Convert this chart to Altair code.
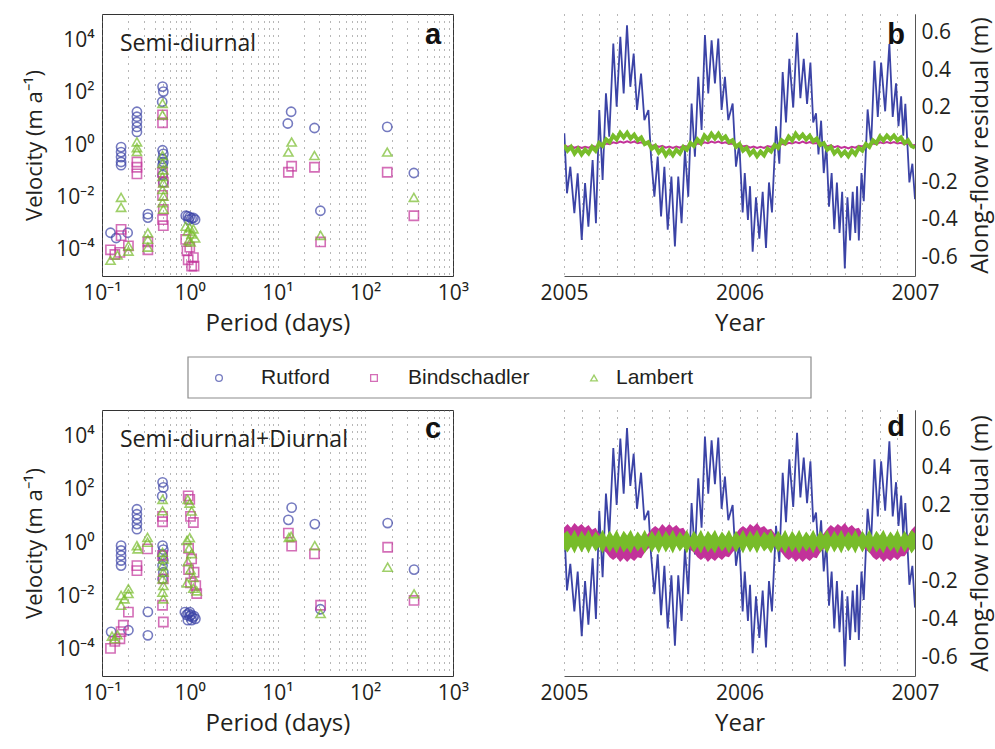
import altair as alt
import pandas as pd

SERIES = ["Rutford", "Bindschadler", "Lambert"]
COLORS = ["#3B43A6", "#C2329A", "#77BC2A"]
SHAPES = ["circle", "square", "triangle-up"]
TXT = "#231F20"
FONT = "Open Sans"

# ---------------- Panel a (Semi-diurnal): period (days), log10 velocity (m/a)
a_rut_period = [0.125, 0.145, 0.165, 0.165, 0.165, 0.165, 0.165, 0.196, 0.25, 0.25, 0.25, 0.25, 0.25,
                0.333, 0.333, 0.49, 0.50, 0.485, 0.49, 0.50, 0.49, 0.50, 0.49, 0.49, 0.50,
                0.90, 0.95, 1.0, 1.05, 1.1, 1.15, 0.97, 13.1, 14.3, 26.4, 30.8, 178, 358]
a_rut_logv = [-3.35, -3.55, -0.08, -0.27, -0.46, -0.65, -0.77, -3.35, 1.27, 1.08, 0.88, 0.69, 0.50,
              -2.64, -2.77, 2.23, 2.04, 1.65, -0.2, -0.34, -0.53, -0.65, -0.77, -1.15, -1.42,
              -2.7, -2.72, -2.75, -2.8, -2.78, -2.85, -2.85, 0.82, 1.27, 0.65, -2.51, 0.69, -1.07]
a_bin_period = [0.125, 0.14, 0.165, 0.165, 0.16, 0.2, 0.25, 0.25, 0.25, 0.333, 0.333, 0.49, 0.49,
                0.49, 0.50, 0.49, 0.50, 0.49, 0.50, 0.9, 0.93, 0.96, 1.0, 1.05, 1.1, 1.12,
                13.3, 14.5, 26.4, 31, 178, 358]
a_bin_logv = [-4.0, -4.18, -3.22, -3.46, -4.1, -3.85, -0.65, -0.85, -1.1, -3.7, -4.0, 1.15, 0.85,
              -1.04, -1.42, -1.92, -2.46, -2.85, -3.08, -3.6, -4.04, -4.38, -3.9, -4.62, -4.3, -4.62,
              -1.04, -0.81, -0.85, -3.7, -1.04, -2.7]
a_lam_period = [0.125, 0.15, 0.2, 0.2, 0.165, 0.165, 0.25, 0.25, 0.25, 0.333, 0.333, 0.333, 0.49, 0.49,
                0.49, 0.49, 0.50, 0.49, 0.50, 0.49, 0.50, 0.49, 0.50,
                0.9, 0.95, 1.0, 1.05, 1.1, 1.15, 0.97, 1.02, 13.3, 14.5, 26.4, 31, 178, 358]
a_lam_logv = [-4.4, -4.2, -4.05, -3.85, -2.0, -2.38, 0.12, -0.1, -0.25, -3.35, -3.6, -3.9, 1.59, 1.15,
              -0.4, -0.7, -0.95, -1.2, -1.45, -1.7, -1.95, -2.2, -2.45,
              -3.1, -3.3, -3.15, -3.4, -3.2, -3.55, -3.65, -3.7, -0.27, 0.115, -0.40, -3.45, -0.27, -2.0]

# ---------------- Panel c (Semi-diurnal+Diurnal)
c_rut_period = [0.127, 0.165, 0.165, 0.165, 0.165, 0.165, 0.2, 0.25, 0.25, 0.25, 0.25, 0.25, 0.333, 0.333,
                0.49, 0.50, 0.485, 0.49, 0.50, 0.49, 0.50, 0.49, 0.50, 0.49,
                0.88, 0.92, 0.96, 1.0, 1.04, 1.08, 1.12, 1.16, 0.95, 1.05, 1.0,
                13.3, 14.5, 26.6, 30.8, 180, 360]
c_rut_logv = [-3.34, -0.1, -0.28, -0.47, -0.66, -0.85, -3.28, 1.27, 1.08, 0.9, 0.71, 0.52, -2.59, -3.47,
              2.28, 2.09, 1.76, -0.1, -0.25, -0.45, -0.65, -0.85, -1.1, -1.35,
              -2.6, -2.7, -2.65, -2.75, -2.7, -2.8, -2.75, -2.85, -2.9, -2.9, -2.6,
              0.87, 1.33, 0.71, -2.49, 0.75, -1.0]
c_bin_period = [0.125, 0.14, 0.16, 0.165, 0.175, 0.2, 0.25, 0.25, 0.33, 0.49, 0.49, 0.49, 0.50, 0.49, 0.50,
                0.96, 1.0, 1.02, 1.1, 0.97, 1.05, 0.97, 1.12, 1.02, 1.17, 1.2,
                13.3, 14.5, 26.4, 31, 180, 360]
c_bin_logv = [-3.96, -3.7, -3.6, -3.33, -3.09, -2.6, -0.85, -1.04, -0.22, 1.0, 0.8, -0.47, -1.35, -2.34, -2.97,
              1.77, 1.64, 1.0, 0.77, -0.2, -0.6, -1.0, -1.1, -1.5, -1.6, -1.9,
              0.37, -0.12, -0.41, -2.34, -0.16, -2.16]
c_lam_period = [0.13, 0.14, 0.15, 0.165, 0.2, 0.165, 0.2, 0.18, 0.25, 0.255, 0.33, 0.33, 0.49, 0.49,
                0.49, 0.50, 0.49, 0.50, 0.49, 0.50, 0.49, 0.50,
                0.95, 1.0, 1.05, 0.93, 0.98, 1.05, 0.95, 1.02, 1.1, 0.93, 1.1, 1.2, 1.0,
                13.5, 14.3, 26.6, 31, 180, 360]
c_lam_logv = [-3.5, -3.6, -3.45, -1.97, -1.72, -2.34, -1.9, -2.1, -0.10, -0.22, 0.21, 0.03, 1.64, 1.21,
              -0.35, -0.6, -0.85, -1.1, -1.35, -1.6, -1.85, -2.1,
              1.64, 1.5, 1.2, 0.1, -0.2, -0.4, -0.7, -1.0, -1.3, -1.5, -1.7, -1.8, 0.2,
              0.21, 0.25, -0.1, -2.65, -0.91, -1.91]

# ---------------- Panels b and d: along-flow residual (m)
blue_year = [
    2005.002, 2005.017, 2005.036, 2005.059, 2005.078, 2005.101, 2005.120, 2005.139, 2005.163, 2005.182,
    2005.201, 2005.220, 2005.239, 2005.258, 2005.281, 2005.300, 2005.321, 2005.340, 2005.359, 2005.378,
    2005.397, 2005.416, 2005.439, 2005.458, 2005.481, 2005.496, 2005.515, 2005.534, 2005.553, 2005.572,
    2005.591, 2005.612, 2005.632, 2005.651, 2005.670, 2005.689, 2005.708, 2005.727, 2005.746, 2005.765,
    2005.784, 2005.803, 2005.822, 2005.841, 2005.860, 2005.879, 2005.898, 2005.917, 2005.936, 2005.961,
    2005.980, 2005.999, 2006.018, 2006.030, 2006.048, 2006.060, 2006.075, 2006.094, 2006.113, 2006.132,
    2006.151, 2006.168, 2006.185, 2006.208, 2006.227, 2006.246, 2006.265, 2006.284, 2006.306, 2006.328,
    2006.347, 2006.366, 2006.385, 2006.404, 2006.420, 2006.436, 2006.450, 2006.465, 2006.480, 2006.495,
    2006.510, 2006.525, 2006.540, 2006.555, 2006.570, 2006.585, 2006.600, 2006.615, 2006.630, 2006.645,
    2006.660, 2006.670, 2006.680, 2006.695, 2006.708, 2006.730, 2006.750, 2006.769, 2006.788, 2006.807,
    2006.830, 2006.854, 2006.873, 2006.892, 2006.906, 2006.921, 2006.933, 2006.945, 2006.968, 2006.985,
    2007.000]
b_rutford = [
    0.062, -0.258, -0.116, -0.364, -0.151, -0.507, -0.204, -0.436, -0.080, -0.418,
    0.187, -0.187, 0.276, 0.044, 0.542, 0.204, 0.578, 0.276, 0.640, 0.311,
    0.489, 0.187, 0.382, 0.133, 0.187, -0.062, -0.276, -0.062, -0.382, -0.116,
    -0.453, -0.169, -0.542, -0.169, -0.418, -0.027, -0.276, 0.222, -0.062, 0.364,
    0.080, 0.587, 0.276, 0.560, 0.329, 0.569, 0.187, 0.364, 0.133, 0.222,
    -0.116, 0.009, -0.36, -0.15, -0.40, -0.22, -0.57, -0.28, -0.50, -0.25,
    -0.55, -0.20, -0.36, 0.10, -0.10, 0.39, 0.12, 0.46, 0.20, 0.60,
    0.25, 0.46, 0.22, 0.44, 0.12, 0.17, -0.05, 0.13, -0.15, 0.00,
    -0.33, -0.15, -0.45, -0.20, -0.47, -0.25, -0.66, -0.28, -0.51, -0.25,
    -0.47, -0.22, -0.51, -0.15, -0.30, 0.19, 0.00, 0.45, 0.15, 0.44,
    0.18, 0.54, 0.15, 0.33, 0.10, 0.26, 0.05, 0.22, -0.20, -0.10,
    -0.29]
d_rutford = [
    0.08, -0.25, -0.11, -0.36, -0.15, -0.49, -0.20, -0.43, -0.08, -0.40,
    0.17, -0.18, 0.26, 0.04, 0.50, 0.20, 0.55, 0.26, 0.605, 0.30,
    0.47, 0.18, 0.37, 0.12, 0.17, -0.06, -0.27, -0.06, -0.38, -0.12,
    -0.45, -0.17, -0.54, -0.17, -0.41, -0.03, -0.27, 0.21, -0.06, 0.34,
    0.08, 0.56, 0.26, 0.54, 0.31, 0.555, 0.18, 0.35, 0.12, 0.20,
    -0.12, 0.0, -0.36, -0.15, -0.41, -0.22, -0.58, -0.28, -0.50, -0.25,
    -0.55, -0.20, -0.36, 0.09, -0.10, 0.37, 0.11, 0.44, 0.19, 0.58,
    0.24, 0.45, 0.21, 0.43, 0.11, 0.16, -0.05, 0.12, -0.15, 0.0,
    -0.33, -0.15, -0.45, -0.20, -0.47, -0.25, -0.65, -0.28, -0.51, -0.25,
    -0.47, -0.22, -0.51, -0.15, -0.30, 0.18, 0.0, 0.44, 0.14, 0.43,
    0.17, 0.535, 0.14, 0.32, 0.09, 0.25, 0.04, 0.21, -0.22, -0.12,
    -0.34]

# sampling times (every 0.02 yr) for the Bindschadler / Lambert traces
grid_year = [round(2005 + 0.02 * i, 2) for i in range(101)]
b_lambert = [
    0.00, -0.03, -0.01, -0.045, -0.02, -0.05, -0.025, -0.045, -0.01, -0.03,
    0.01, -0.005, 0.03, 0.015, 0.05, 0.03, 0.065, 0.04, 0.065, 0.035,
    0.055, 0.025, 0.04, 0.005, 0.015, -0.02, -0.005, -0.04, -0.02, -0.055,
    -0.03, -0.055, -0.025, -0.045, -0.01, -0.025, 0.01, -0.005, 0.03, 0.01,
    0.05, 0.03, 0.06, 0.035, 0.06, 0.03, 0.045, 0.015, 0.025, -0.01,
    0.005, -0.03, -0.015, -0.05, -0.03, -0.06, -0.035, -0.055, -0.02, -0.035,
    0.0, -0.015, 0.025, 0.01, 0.045, 0.025, 0.06, 0.035, 0.055, 0.03,
    0.05, 0.02, 0.035, 0.0, 0.01, -0.025, -0.01, -0.045, -0.025, -0.055,
    -0.035, -0.06, -0.03, -0.05, -0.015, -0.03, 0.005, -0.01, 0.025, 0.01,
    0.045, 0.025, 0.05, 0.03, 0.05, 0.025, 0.04, 0.01, 0.025, -0.005,
    -0.015]
b_bindschadler = [
    0.0, -0.01, -0.005, -0.015, -0.008, -0.016, -0.01, -0.015, -0.005, -0.01,
    0.0, -0.002, 0.008, 0.004, 0.014, 0.01, 0.018, 0.012, 0.02, 0.012,
    0.018, 0.01, 0.014, 0.004, 0.006, -0.004, 0.0, -0.01, -0.004, -0.014,
    -0.008, -0.016, -0.008, -0.014, -0.004, -0.008, 0.002, -0.002, 0.008, 0.004,
    0.014, 0.01, 0.018, 0.012, 0.018, 0.01, 0.014, 0.006, 0.008, -0.002,
    0.002, -0.008, -0.004, -0.014, -0.008, -0.016, -0.01, -0.016, -0.006, -0.01,
    0.0, -0.004, 0.006, 0.002, 0.012, 0.008, 0.016, 0.01, 0.018, 0.01,
    0.016, 0.008, 0.01, 0.0, 0.004, -0.006, -0.002, -0.012, -0.006, -0.016,
    -0.01, -0.018, -0.01, -0.014, -0.004, -0.008, 0.002, -0.002, 0.008, 0.004,
    0.014, 0.01, 0.016, 0.01, 0.016, 0.008, 0.012, 0.004, 0.008, -0.002,
    0.0]
d_bindschadler_hi = [
    0.08, 0.10, 0.08, 0.105, 0.085, 0.10, 0.08, 0.095, 0.07, 0.08,
    0.05, 0.03, 0.01, 0.0, 0.01, -0.005, 0.01, -0.005, 0.01, 0.0,
    0.01, 0.0, 0.015, 0.03, 0.05, 0.075, 0.09, 0.075, 0.10, 0.08,
    0.10, 0.08, 0.095, 0.075, 0.08, 0.05, 0.03, 0.01, 0.0, 0.01,
    -0.005, 0.01, -0.005, 0.01, 0.0, 0.01, 0.0, 0.015, 0.03, 0.05,
    0.075, 0.09, 0.075, 0.10, 0.085, 0.105, 0.08, 0.09, 0.07, 0.075,
    0.05, 0.03, 0.01, 0.0, 0.01, -0.005, 0.01, -0.005, 0.01, 0.0,
    0.01, 0.0, 0.015, 0.03, 0.05, 0.075, 0.095, 0.08, 0.10, 0.085,
    0.105, 0.08, 0.095, 0.075, 0.08, 0.05, 0.03, 0.01, 0.0, 0.01,
    -0.005, 0.01, -0.005, 0.01, 0.0, 0.01, 0.0, 0.015, 0.04, 0.07,
    0.09]
d_bindschadler_lo = [
    -0.01, 0.0, -0.01, 0.005, -0.005, 0.005, -0.01, 0.0, -0.01, -0.005,
    -0.02, -0.035, -0.05, -0.075, -0.09, -0.075, -0.10, -0.08, -0.10, -0.08,
    -0.095, -0.075, -0.08, -0.05, -0.03, -0.01, 0.0, -0.01, 0.005, -0.005,
    0.005, -0.01, 0.0, -0.01, -0.005, -0.02, -0.035, -0.05, -0.075, -0.09,
    -0.075, -0.10, -0.08, -0.095, -0.075, -0.09, -0.07, -0.075, -0.05, -0.03,
    -0.01, 0.0, -0.01, 0.005, -0.005, 0.005, -0.01, 0.0, -0.01, -0.005,
    -0.02, -0.035, -0.05, -0.075, -0.09, -0.075, -0.10, -0.08, -0.10, -0.08,
    -0.095, -0.075, -0.08, -0.05, -0.03, -0.01, 0.0, -0.01, 0.005, -0.005,
    0.005, -0.01, 0.0, -0.01, -0.005, -0.02, -0.035, -0.05, -0.075, -0.09,
    -0.075, -0.10, -0.08, -0.095, -0.075, -0.09, -0.07, -0.07, -0.045, -0.02,
    -0.01]
d_lambert_hi = [
    0.05, 0.065, 0.035, 0.07, 0.03, 0.065, 0.035, 0.07, 0.03, 0.06,
    0.035, 0.07, 0.03, 0.065, 0.035, 0.07, 0.03, 0.065, 0.04, 0.07,
    0.03, 0.06, 0.035, 0.07, 0.03, 0.065, 0.035, 0.07, 0.03, 0.065,
    0.035, 0.07, 0.03, 0.06, 0.035, 0.07, 0.03, 0.065, 0.035, 0.07,
    0.03, 0.065, 0.04, 0.07, 0.03, 0.06, 0.035, 0.07, 0.03, 0.065,
    0.035, 0.07, 0.03, 0.065, 0.035, 0.07, 0.03, 0.06, 0.04, 0.07,
    0.03, 0.065, 0.035, 0.07, 0.03, 0.065, 0.035, 0.07, 0.03, 0.06,
    0.035, 0.07, 0.03, 0.065, 0.04, 0.07, 0.03, 0.065, 0.035, 0.07,
    0.03, 0.06, 0.035, 0.07, 0.03, 0.065, 0.035, 0.07, 0.03, 0.065,
    0.04, 0.07, 0.03, 0.06, 0.035, 0.07, 0.03, 0.065, 0.035, 0.07,
    0.05]
d_lambert_lo = [
    -0.03, -0.05, -0.02, -0.055, -0.015, -0.05, -0.02, -0.055, -0.015, -0.045,
    -0.02, -0.055, -0.015, -0.05, -0.02, -0.055, -0.015, -0.05, -0.025, -0.055,
    -0.015, -0.045, -0.02, -0.055, -0.015, -0.05, -0.02, -0.055, -0.015, -0.05,
    -0.02, -0.055, -0.015, -0.045, -0.02, -0.055, -0.015, -0.05, -0.02, -0.055,
    -0.015, -0.05, -0.025, -0.055, -0.015, -0.045, -0.02, -0.055, -0.015, -0.05,
    -0.02, -0.055, -0.015, -0.05, -0.02, -0.055, -0.015, -0.045, -0.025, -0.055,
    -0.015, -0.05, -0.02, -0.055, -0.015, -0.05, -0.02, -0.055, -0.015, -0.045,
    -0.02, -0.055, -0.015, -0.05, -0.025, -0.055, -0.015, -0.05, -0.02, -0.055,
    -0.015, -0.045, -0.02, -0.055, -0.015, -0.05, -0.02, -0.055, -0.015, -0.05,
    -0.025, -0.055, -0.015, -0.045, -0.02, -0.055, -0.015, -0.05, -0.02, -0.055,
    -0.03]

# ---------------- axis tick values / labels
X_LOG_TICKS = [round(k * 10.0 ** n, 6) for n in range(-1, 3) for k in range(1, 10)] + [1000.0]
X_LOG_LABELS = ("datum.value == 0.1 ? '10⁻¹' : datum.value == 1 ? '10⁰' : datum.value == 10 ? '10¹' : "
                "datum.value == 100 ? '10²' : datum.value == 1000 ? '10³' : ''")
Y_LOG_TICKS = [1e-4, 1e-2, 1.0, 1e2, 1e4]
Y_LOG_LABELS = ("datum.value < 0.001 ? '10⁻⁴' : datum.value < 0.1 ? '10⁻²' : datum.value < 10 ? '10⁰' : "
                "datum.value < 1000 ? '10²' : '10⁴'")
YEAR_TICKS = [round(2005 + 0.1 * i, 1) for i in range(21)]
YEAR_LABELS = "(datum.value == 2005 || datum.value == 2006 || datum.value == 2007) ? '' + datum.value : ''"
RES_TICKS = [-0.6, -0.4, -0.2, 0.0, 0.2, 0.4, 0.6]
RES_LABELS = "datum.value == 0 ? '0' : (datum.value < 0 ? '-' : '') + format(abs(datum.value), '.1f')"

# legend key layout (pixels inside the legend strip, origin = left edge of panel a)
LEGEND_FRAME = (86, 709)
LEGEND_SYMBOL_X = [117, 272, 492]
LEGEND_LABEL_X = [159, 306, 514]

PW = 351
H_TOP = 262
H_BOT = 266
GRID = dict(grid=True, gridDash=[1, 6], gridColor="#6e6e6e", gridWidth=1)
LAB = dict(labelFont=FONT, labelFontSize=21, labelColor=TXT, titleFont=FONT, titleFontSize=24,
           titleFontWeight="normal", titleColor=TXT)


def scatter_df(rp, rv, bp, bv, lp, lv):
    rows = []
    for name, ps, vs in (("Rutford", rp, rv), ("Bindschadler", bp, bv), ("Lambert", lp, lv)):
        for p, v in zip(ps, vs):
            rows.append({"glacier": name, "period": p, "velocity": 10 ** v})
    return pd.DataFrame(rows)


def scatter_panel(df, note, letter, h, letter_y):
    lab = dict(LAB)
    lab["titleFontSize"] = 22
    pts = alt.Chart(df).mark_point(filled=False, size=85, strokeWidth=1.6).encode(
        x=alt.X("period:Q", scale=alt.Scale(type="log", domain=[0.1, 1000]),
                axis=alt.Axis(values=X_LOG_TICKS, labelExpr=X_LOG_LABELS, ticks=False, domain=False,
                              labelFlush=False, labelOverlap=False, labelPadding=6,
                              title="Period (days)", titlePadding=8, **GRID, **LAB)),
        y=alt.Y("velocity:Q", scale=alt.Scale(type="log", domain=[1e-5, 1e5]),
                axis=alt.Axis(values=Y_LOG_TICKS, labelExpr=Y_LOG_LABELS, ticks=False, domain=False,
                              grid=False, labelOverlap=False, labelPadding=8,
                              title="Velocity (m a⁻¹)", titlePadding=9, **lab)),
        color=alt.Color("glacier:N", scale=alt.Scale(domain=SERIES, range=COLORS), legend=None),
        shape=alt.Shape("glacier:N", scale=alt.Scale(domain=SERIES, range=SHAPES), legend=None),
    )
    note_t = alt.Chart(pd.DataFrame({"t": [note]})).mark_text(
        align="left", baseline="alphabetic", font=FONT, fontSize=23, color=TXT
    ).encode(x=alt.value(18), y=alt.value(37), text="t:N")
    let_t = alt.Chart(pd.DataFrame({"t": [letter]})).mark_text(
        align="center", baseline="alphabetic", font="Liberation Sans", fontWeight="bold", fontSize=29, color="#111"
    ).encode(x=alt.value(331), y=alt.value(letter_y), text="t:N")
    return alt.layer(pts, note_t, let_t).properties(
        width=PW, height=h, view=alt.ViewBackground(stroke="#333", strokeWidth=1))


def ts_panel(blue, mag_layer, green_layer, letter, h, letter_y):
    X = alt.X("year:Q", scale=alt.Scale(domain=[2005, 2007], nice=False, zero=False),
              axis=alt.Axis(values=YEAR_TICKS, labelExpr=YEAR_LABELS, ticks=False, domainColor="#555",
                            labelFlush=False, labelOverlap=False, labelPadding=6,
                            title="Year", titlePadding=8, **GRID, **LAB))
    Y = alt.Y("res:Q", scale=alt.Scale(domain=[-0.7, 0.7], nice=False, zero=False),
              axis=alt.Axis(orient="right", values=RES_TICKS, labelExpr=RES_LABELS, ticks=False,
                            domainColor="#555", grid=False, labelPadding=6,
                            title="Along-flow residual (m)", titleAngle=270, titleBaseline="top",
                            titlePadding=11, **LAB))
    bl = alt.Chart(pd.DataFrame({"year": blue_year, "res": blue})).mark_line(
        color=COLORS[0], strokeWidth=1.8, clip=True).encode(x=X, y=Y)
    let_t = alt.Chart(pd.DataFrame({"t": [letter]})).mark_text(
        align="center", baseline="alphabetic", font="Liberation Sans", fontWeight="bold", fontSize=29, color="#111"
    ).encode(x=alt.value(332), y=alt.value(letter_y), text="t:N")
    return alt.layer(bl, mag_layer(X, Y), green_layer(X, Y), let_t).properties(width=PW, height=h)


def b_mag(X, Y):
    return alt.Chart(pd.DataFrame({"year": grid_year, "res": b_bindschadler})).mark_line(
        color=COLORS[1], strokeWidth=2, clip=True).encode(x=X, y=Y)


def b_green(X, Y):
    return alt.Chart(pd.DataFrame({"year": grid_year, "res": b_lambert})).mark_line(
        color=COLORS[2], strokeWidth=4, clip=True).encode(x=X, y=Y)


def d_mag(X, Y):
    return alt.Chart(pd.DataFrame({"year": grid_year, "res": d_bindschadler_hi, "lo": d_bindschadler_lo})).mark_area(
        color=COLORS[1], opacity=1, clip=True).encode(x=X, y=Y, y2="lo:Q")


def d_green(X, Y):
    return alt.Chart(pd.DataFrame({"year": grid_year, "res": d_lambert_hi, "lo": d_lambert_lo})).mark_area(
        color=COLORS[2], opacity=1, clip=True).encode(x=X, y=Y, y2="lo:Q")


panel_a = scatter_panel(scatter_df(a_rut_period, a_rut_logv, a_bin_period, a_bin_logv, a_lam_period, a_lam_logv),
                        "Semi-diurnal", "a", H_TOP, 30)
panel_c = scatter_panel(scatter_df(c_rut_period, c_rut_logv, c_bin_period, c_bin_logv, c_lam_period, c_lam_logv),
                        "Semi-diurnal+Diurnal", "c", H_BOT, 28)
panel_b = ts_panel(b_rutford, b_mag, b_green, "b", H_TOP, 30)
panel_d = ts_panel(d_rutford, d_mag, d_green, "d", H_BOT, 26)

# ---------------- legend strip (frame + key symbols + names)
one = pd.DataFrame({"k": [0]})
legend_layers = [
    alt.Chart(one).mark_rect(fill="white", stroke="#8c8c8c", strokeWidth=1.2).encode(
        x=alt.value(LEGEND_FRAME[0]), x2=alt.value(LEGEND_FRAME[1]), y=alt.value(0), y2=alt.value(41))
]
for name, col, shp, sx, lx in zip(SERIES, COLORS, SHAPES, LEGEND_SYMBOL_X, LEGEND_LABEL_X):
    nd = pd.DataFrame({"glacier": [name]})
    legend_layers.append(alt.Chart(nd).mark_point(filled=False, shape=shp, color=col, size=45, strokeWidth=1.3)
                         .encode(x=alt.value(sx), y=alt.value(21)))
    legend_layers.append(alt.Chart(nd).mark_text(align="left", baseline="middle", font="Liberation Sans",
                                                 fontSize=21, color=TXT)
                         .encode(x=alt.value(lx), y=alt.value(21), text="glacier:N"))
legend_strip = alt.layer(*legend_layers).properties(width=LEGEND_FRAME[1], height=41)

row1 = alt.hconcat(panel_a, panel_b, spacing=69)
row2 = alt.hconcat(panel_c, panel_d, spacing=69)

top = alt.vconcat(row1, legend_strip, spacing=19)
chart = alt.vconcat(top, row2, spacing=9).properties(
    padding={"left": 23, "top": 13, "right": 2, "bottom": 2}, background="white"
).configure_view(stroke="transparent")

chart.save("out.html", embed_options={"renderer": "svg", "actions": False})
